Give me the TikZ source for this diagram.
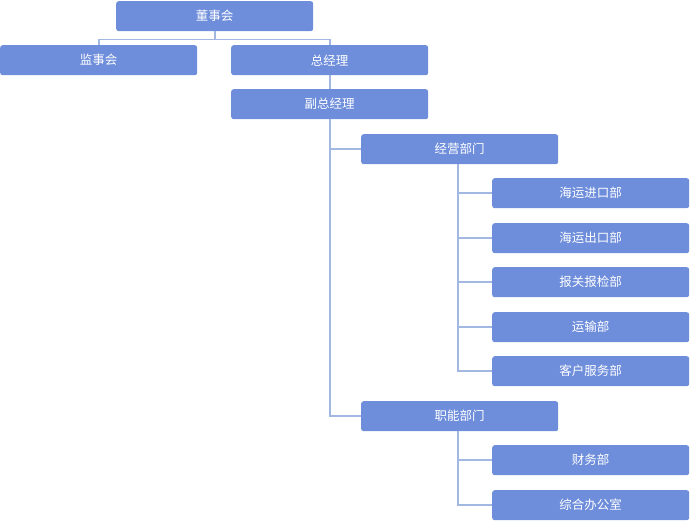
\documentclass[tikz,border=0pt]{standalone}
\usepackage{fontspec}
\setmainfont{Noto Sans CJK SC}
\begin{document}
\begin{tikzpicture}[x=1pt,y=-1pt,
  box/.style={fill=boxc,rounded corners=2.5pt,minimum width=197pt,minimum height=30pt,text=white,font=\fontsize{12.5}{14}\selectfont,inner sep=0pt,anchor=north west},
  conn/.style={draw=linec,line width=1.6pt}]
\definecolor{boxc}{HTML}{6E8DDB}
\definecolor{linec}{HTML}{A2B8E3}
\useasboundingbox (0,0) rectangle (690,520);
\node[box] (ds) at (116,1) {董事会};
\node[box] (js) at (0,45) {监事会};
\node[box] (zj) at (231,45) {总经理};
\node[box] (fz) at (231,89) {副总经理};
\node[box] (jy) at (361,134) {经营部门};
\node[box] (a1) at (492,178) {海运进口部};
\node[box] (a2) at (492,223) {海运出口部};
\node[box] (a3) at (492,267) {报关报检部};
\node[box] (a4) at (492,312) {运输部};
\node[box] (a5) at (492,356) {客户服务部};
\node[box] (zn) at (361,401) {职能部门};
\node[box] (b1) at (492,445) {财务部};
\node[box] (b2) at (492,490) {综合办公室};
\begin{scope}[on background layer/.try]
\draw[conn] (ds.south) -- ++(0,8) -| (js.north);
\draw[conn] (ds.south) -- ++(0,8) -| (zj.north);
\draw[conn] (zj.south) -- (fz.north);
\draw[conn] (fz.south) |- (jy.west);
\draw[conn] (fz.south) |- (zn.west);
\foreach \n in {a1,a2,a3,a4,a5} \draw[conn] ([xshift=-1.5pt]jy.south) |- (\n.west);
\foreach \n in {b1,b2} \draw[conn] ([xshift=-1.5pt]zn.south) |- (\n.west);
\end{scope}
\end{tikzpicture}
\end{document}
